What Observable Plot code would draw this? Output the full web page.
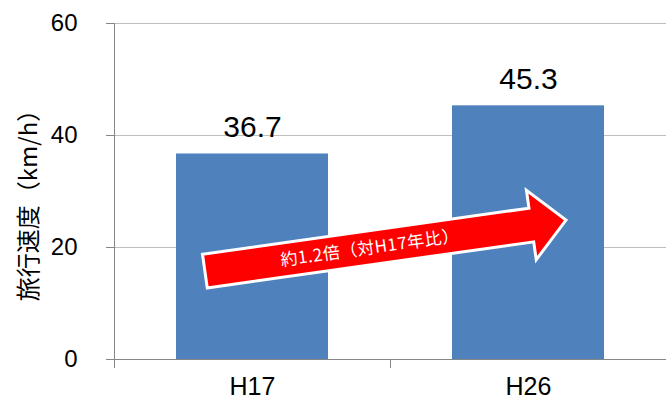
<!DOCTYPE html>
<html>
<head>
<meta charset="utf-8">
<script src="https://cdn.jsdelivr.net/npm/d3@7"></script>
<script src="https://cdn.jsdelivr.net/npm/@observablehq/plot@0.6"></script>
<style>
  html, body { margin: 0; padding: 0; background: #ffffff; }
  #chart svg { display: block; }
</style>
</head>
<body>
<div id="chart"></div>
<script>
// ---- data ----
const categories = ["H17", "H26"];
const speeds = [36.7, 45.3];
const yTicks = [0, 20, 40, 60];
const yTitle = "旅行速度（km/h）";
const arrowLabel = "約1.2倍（対H17年比）";
// arrow runs from (H17, 15.7) to (H26, 24.8) in data units
const arrowFromCat = "H17", arrowFromValue = 15.7;
const arrowToCat = "H26", arrowToValue = 24.8;

const data = categories.map((c, i) => ({category: c, value: speeds[i]}));

const numFont = "'Liberation Sans Narrow', 'Liberation Sans', Arial, sans-serif";
const cjkFont = "'Noto Sans CJK JP', sans-serif";

function frameLines(index, {x, y}, values, dims) {
  const g = d3.create("svg:g").attr("stroke", "#868686").attr("stroke-width", 1).attr("fill", "none");
  const bw = x.bandwidth();
  const step = x.step ? x.step() : bw / (1 - 0.448);
  const bounds = categories.map(c => x(c) - (step - bw) / 2);
  bounds.push(bounds[bounds.length - 1] + step);
  const y0 = y(0);
  bounds.forEach(b => {
    g.append("line").attr("x1", b + 0.5).attr("x2", b + 0.5).attr("y1", y0).attr("y2", y0 + 9);
  });
  g.append("line")
    .attr("x1", dims.marginLeft + 0.5).attr("x2", dims.marginLeft + 0.5)
    .attr("y1", y(yTicks[yTicks.length - 1])).attr("y2", y0 + 9);
  return g.node();
}

function arrowMark(index, {x, y}) {
  const bw = x.bandwidth();
  const sx = x(arrowFromCat) + 0.19 * bw, sy = y(arrowFromValue);
  const tx = x(arrowToCat) + 0.75 * bw, ty = y(arrowToValue);
  const len = Math.hypot(tx - sx, ty - sy);
  const ux = (tx - sx) / len, uy = (ty - sy) / len;
  const nx = -uy, ny = ux;
  const sh = 17, hh = 35, hl = 35;
  const bx = tx - ux * hl, by = ty - uy * hl;
  const pts = [
    [sx + nx * sh, sy + ny * sh],
    [bx + nx * sh, by + ny * sh],
    [bx + nx * hh, by + ny * hh],
    [tx, ty],
    [bx - nx * hh, by - ny * hh],
    [bx - nx * sh, by - ny * sh],
    [sx - nx * sh, sy - ny * sh]
  ];
  const g = d3.create("svg:g");
  g.append("polygon")
    .attr("points", pts.map(p => p.join(",")).join(" "))
    .attr("fill", "#FF0000")
    .attr("stroke", "#ffffff")
    .attr("stroke-width", 3)
    .attr("stroke-linejoin", "miter");
  const cx = sx + ux * len * 0.457, cy = sy + uy * len * 0.457;
  const ang = Math.atan2(uy, ux) * 180 / Math.PI;
  g.append("text")
    .attr("transform", `translate(${cx},${cy}) rotate(${ang})`)
    .attr("text-anchor", "middle")
    .attr("dy", "0.35em")
    .attr("fill", "#ffffff")
    .attr("font-family", cjkFont)
    .attr("font-size", 17)
    .attr("letter-spacing", "0.5px")
    .text(arrowLabel);
  return g.node();
}

const chart = Plot.plot({
  width: 666,
  height: 400,
  marginLeft: 114,
  marginRight: 0,
  marginTop: 23,
  marginBottom: 41,
  style: {background: "#ffffff", color: "#000000", fontFamily: numFont},
  x: {domain: categories, paddingInner: 0.448, paddingOuter: 0.224, label: null},
  y: {domain: [0, 60], label: null},
  marks: [
    Plot.gridY(yTicks.filter(d => d > 0), {stroke: "#BFBFBF", strokeOpacity: 1}),
    Plot.barY(data, {x: "category", y: "value", fill: "#4F81BD"}),
    Plot.ruleY([0], {stroke: "#868686"}),
    frameLines,
    Plot.axisY(yTicks, {tickSize: 8, tickPadding: 29, fontSize: 24, stroke: "#868686", label: null, fontFamily: numFont}),
    Plot.axisX({tickSize: 0, tickPadding: 18, fontSize: 25, label: null, fontFamily: numFont}),
    Plot.text(data, {x: "category", y: "value", text: d => d.value.toFixed(1), lineAnchor: "bottom", dy: -17, fontSize: 30, fontFamily: numFont, fill: "#000000"}),
    Plot.text([yTitle], {frameAnchor: "left", textAnchor: "middle", rotate: -90, dx: -85, dy: 8, fontSize: 24, fontFamily: cjkFont, fill: "#000000"}),
    arrowMark
  ]
});
document.getElementById("chart").appendChild(chart);
</script>
</body>
</html>
